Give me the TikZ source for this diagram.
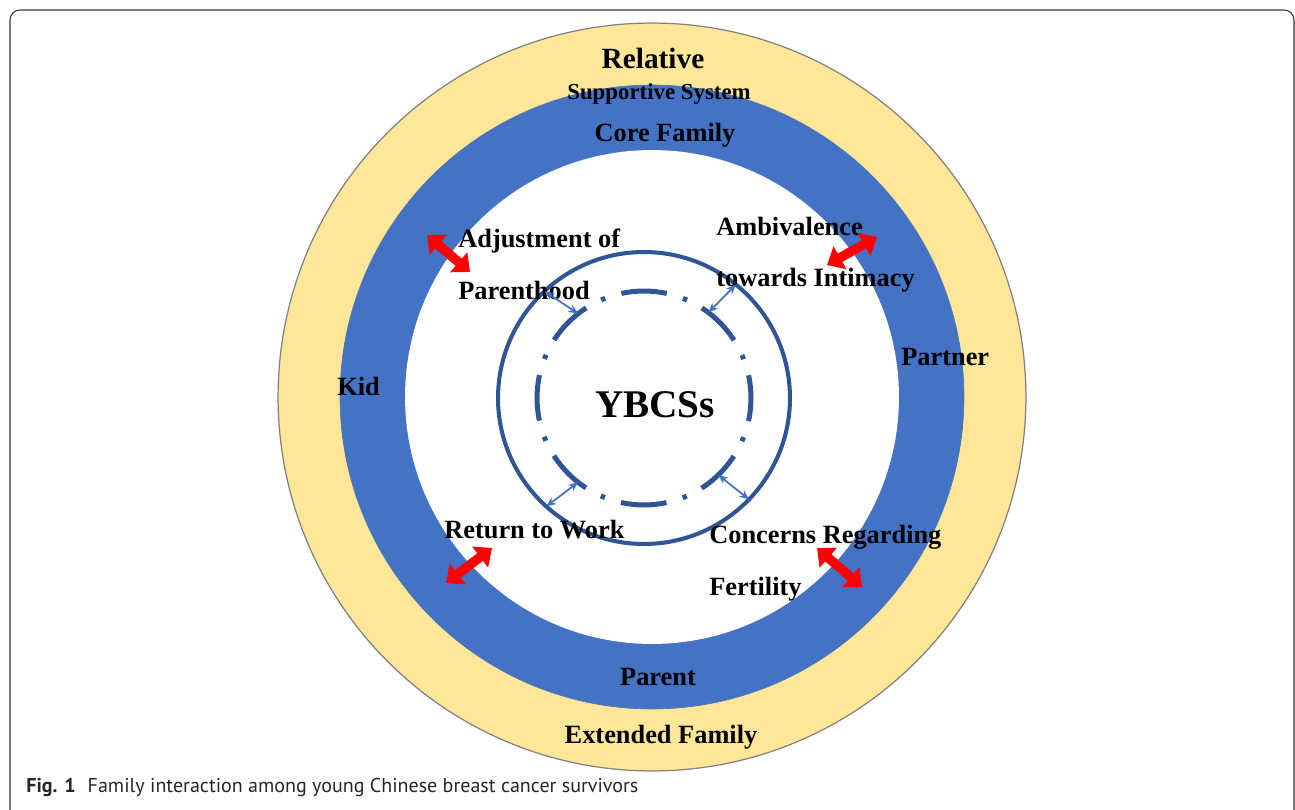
\documentclass[tikz,border=0pt]{standalone}
\usepackage{fontspec}
\setmainfont{Liberation Serif}
\newfontfamily\capfont{PT Sans}
\usepackage{xcolor}
\usetikzlibrary{arrows.meta,
	calc,
	positioning}
\definecolor{ringyel}{HTML}{FFE699}
\definecolor{ringblu}{HTML}{4472C4}
\definecolor{ringdark}{HTML}{2F5597}
\tikzstyle{ring}=[circle, inner sep=0, outer sep=0]
\tikzstyle{lbl}=[font=\fontsize{15}{18}\selectfont\bfseries, inner sep=0, anchor=base west]
\tikzstyle{lblc}=[lbl, anchor=base]
\tikzstyle{bigarr}=[draw=red, line width=5.4pt,
		{Triangle[length=8.5pt,width=14.5pt]}-{Triangle[length=8.5pt,width=14.5pt]}]
\tikzstyle{smallarr}=[draw=ringblu, line width=1pt,
		{Stealth[length=5.5pt,width=4.6pt]}-{Stealth[length=5.5pt,width=4.6pt]}]

\begin{document}
\begin{tikzpicture}[x=0.02cm, y=0.02cm]
	\useasboundingbox (0,0) rectangle (1295,809);
	\draw[draw=black!80, line width=0.6pt, rounded corners=5.7pt] (10,-30) rectangle (1294,799);

	\coordinate (c) at (652,412);
	\coordinate (s) at (644,411);

	\node[ring, fill=ringyel, draw=gray, line width=0.7pt, minimum size=14.96cm] (relative) at (c) {};
	\node[ring, fill=ringblu, draw=ringblu!80!gray, line width=0.4pt, minimum size=12.48cm] (core) at (c) {};
	\node[ring, fill=white, minimum size=9.88cm] (home) at (c) {};
	\node[ring, draw=ringdark, line width=2.3pt, minimum size=5.84cm] (bound) at (s) {};
	\node[ring, draw=ringdark, line width=2.85pt, minimum size=4.28cm,
		dash pattern=on 26.1pt off 9.6pt on 2.5pt off 9.6pt, dash phase=13.05pt] (ybcs) at (s) {};

	\node[lblc, font=\fontsize{16.7}{20}\selectfont\bfseries] (rel) at (653,740) {Relative};
	\node[lblc, font=\fontsize{13}{16}\selectfont\bfseries] (sup) at (659,709) {Supportive System};
	\node[lblc] (cf) at (665,667) {Core Family};
	\node[lblc] (par) at (658,124) {Parent};
	\node[lblc] (ext) at (661,66) {Extended Family};
	\node[lbl] (kid) at (337,414) {Kid};
	\node[lbl] (ptn) at (901,443) {Partner};
	\node[lblc, font=\fontsize{22.3}{26}\selectfont\bfseries] (me) at (655,392) {YBCSs};

	\node[lbl] (adj1) at (458,561) {Adjustment of};
	\node[lbl] (adj2) at (458,509) {Parenthood};
	\node[lbl] (amb1) at (716,573) {Ambivalence};
	\node[lbl] (amb2) at (716,522) {towards Intimacy};
	\node[lbl] (ret) at (444,271) {Return to Work};
	\node[lbl] (con1) at (709,266) {Concerns Regarding};
	\node[lbl] (con2) at (709,214) {Fertility};

	\coordinate (adjA) at (427,574);
	\coordinate (adjB) at (470,537);
	\coordinate (ambA) at (827,544);
	\coordinate (ambB) at (877,572);
	\coordinate (retA) at (446,226);
	\coordinate (retB) at (492,261);
	\coordinate (conA) at (817,261);
	\coordinate (conB) at (862,222);
	\draw[bigarr] (adjA) -- (adjB);
	\draw[bigarr] (ambA) -- (ambB);
	\draw[bigarr] (retA) -- (retB);
	\draw[bigarr] (conA) -- (conB);

	\draw[smallarr] (bound.133) -- (ybcs.128);
	\draw[smallarr] (bound.51) -- (ybcs.53);
	\draw[smallarr] (bound.228) -- (ybcs.232);
	\draw[smallarr] (bound.316) -- (ybcs.314);

	\node[anchor=base west, inner sep=0, font=\capfont\fontsize{11.4}{13}\selectfont, text=black!85] (cap) at (26,17)
		{\textbf{Fig. 1}\hspace{0.6em}Family interaction among young Chinese breast cancer survivors};
\end{tikzpicture}
\end{document}
